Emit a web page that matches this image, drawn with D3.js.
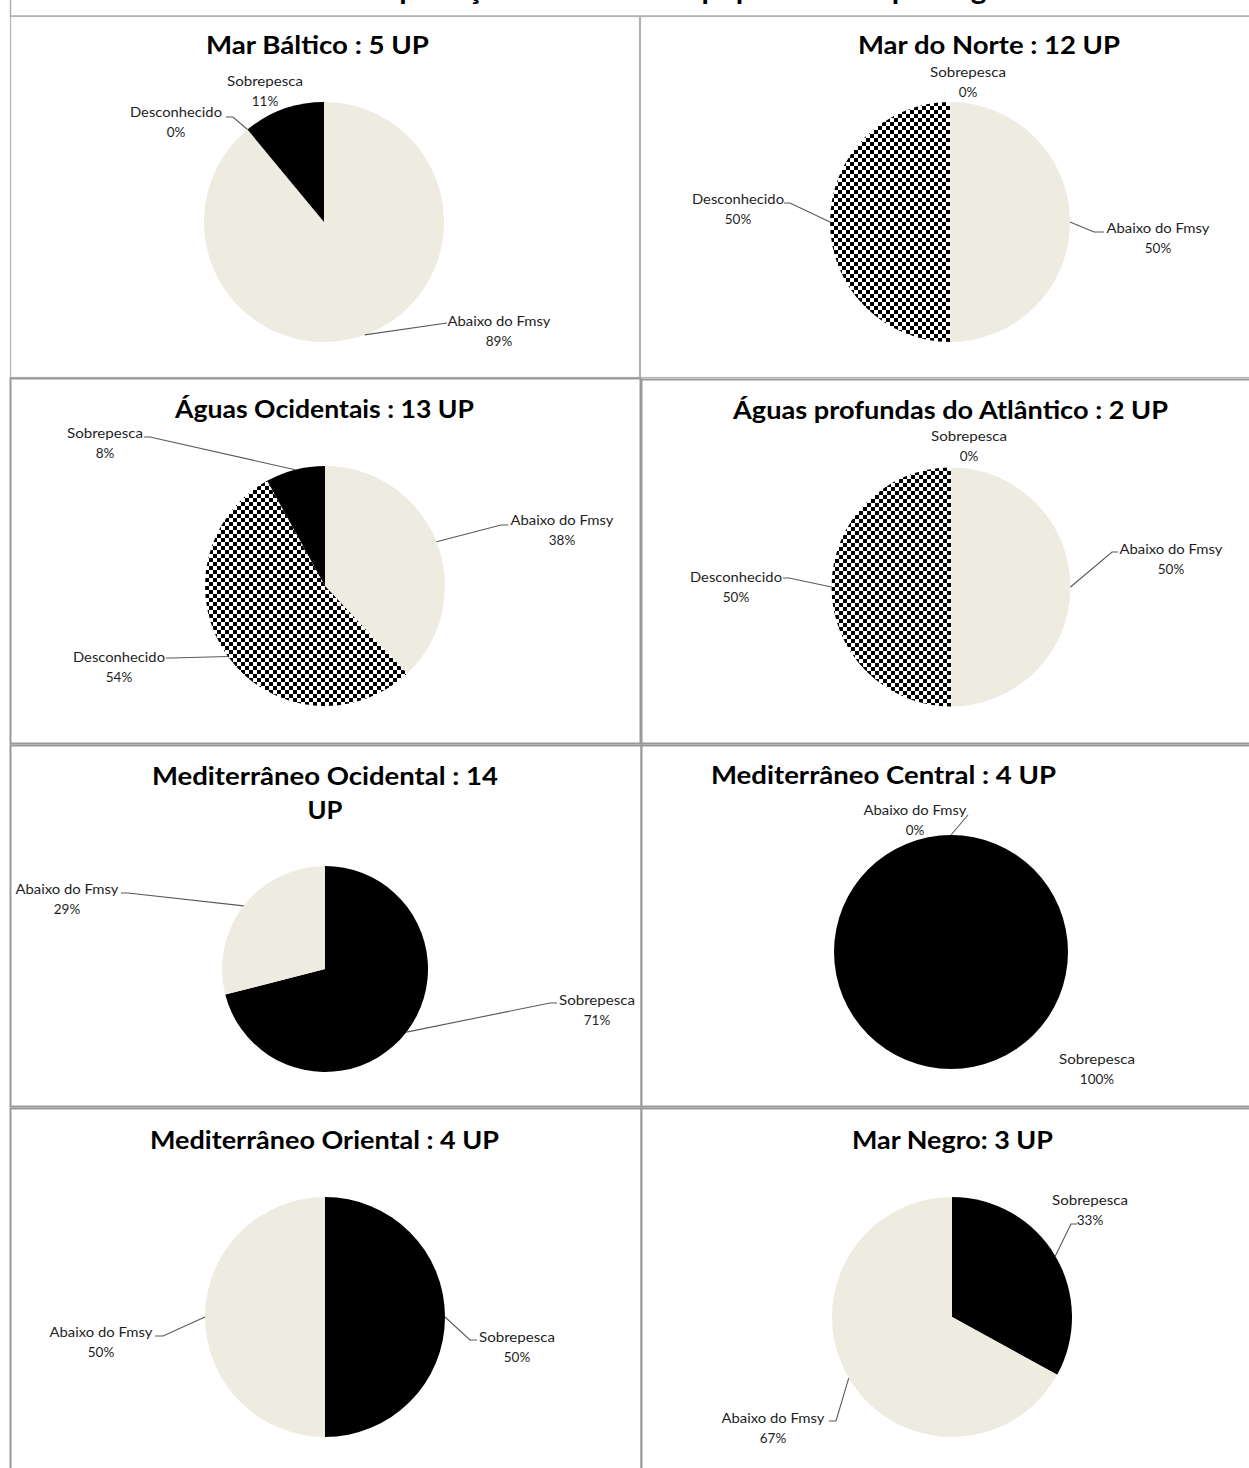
<!DOCTYPE html>
<html><head><meta charset="utf-8">
<script src="https://cdn.jsdelivr.net/npm/d3@7"></script>
<style>
html,body{margin:0;padding:0;background:#fff;overflow:hidden}
svg{display:block}
</style></head>
<body>
<svg id="chart" width="1249" height="1468"></svg>
<script>
// ---------- DATA ----------
const mainTitle = "Estado de exploração das unidades populacionais por região";
const panelTitles = [
  ["Mar Báltico :  5 UP"],
  ["Mar do Norte :  12 UP"],
  ["Águas Ocidentais : 13 UP"],
  ["Águas profundas do Atlântico : 2 UP"],
  ["Mediterrâneo Ocidental  : 14", "UP"],
  ["Mediterrâneo Central :  4 UP"],
  ["Mediterrâneo Oriental : 4 UP"],
  ["Mar Negro: 3 UP"]
];
const panelCategories = [
  ["Abaixo do Fmsy", "Desconhecido", "Sobrepesca"],
  ["Abaixo do Fmsy", "Desconhecido", "Sobrepesca"],
  ["Abaixo do Fmsy", "Desconhecido", "Sobrepesca"],
  ["Abaixo do Fmsy", "Desconhecido", "Sobrepesca"],
  ["Sobrepesca", "Abaixo do Fmsy"],
  ["Abaixo do Fmsy", "Sobrepesca"],
  ["Sobrepesca", "Abaixo do Fmsy"],
  ["Sobrepesca", "Abaixo do Fmsy"]
];
const panelValues = [
  [89, 0, 11],
  [50, 50, 0],
  [38, 54, 8],
  [50, 50, 0],
  [71, 29],
  [0, 100],
  [50, 50],
  [33, 67]
];

// ---------- LAYOUT ----------
const W = 1249, H = 1468;
const panelBoxes = [
  {x:10.5, y:16.5, w:629, h:361},
  {x:640.5, y:16.5, w:640, h:361},
  {x:10.5, y:378.5, w:630, h:365},
  {x:641.5, y:379.5, w:640, h:364},
  {x:10.5, y:745.5, w:631, h:361},
  {x:641.5, y:745.5, w:640, h:361},
  {x:10.5, y:1108.5, w:631, h:400},
  {x:641.5, y:1108.5, w:640, h:400}
];
const titleLayout = [
  {cx:317.5, y:[54], len:[223]},
  {cx:989, y:[54], len:[262]},
  {cx:324.5, y:[418], len:[299]},
  {cx:950.5, y:[419], len:[435]},
  {cx:325, y:[785, 819], len:[346, 35]},
  {cx:883.5, y:[784], len:[345]},
  {cx:324.5, y:[1149], len:[349]},
  {cx:952.5, y:[1149], len:[201]}
];
const pieLayout = [
  {cx:324, cy:222, r:120},
  {cx:950, cy:222, r:120},
  {cx:325, cy:586, r:120},
  {cx:951, cy:587, r:119.5},
  {cx:325, cy:969, r:103},
  {cx:951, cy:952, r:117},
  {cx:325, cy:1317, r:120},
  {cx:952, cy:1317, r:120}
];
// label positions (text center x, first line middle y) and leader points after the slice edge
const labelLayout = [
  {"Abaixo do Fmsy":{x:499,y:321,pts:[[447,323]]},
   "Desconhecido":{x:176,y:112,pts:[[233,117],[226,117]]},
   "Sobrepesca":{x:265,y:81,pts:null}},
  {"Abaixo do Fmsy":{x:1158,y:228,pts:[[1094,232],[1104,232]]},
   "Desconhecido":{x:738,y:199,pts:[[790,203],[784,203]]},
   "Sobrepesca":{x:968,y:72,pts:null}},
  {"Abaixo do Fmsy":{x:562,y:520,pts:[[501,525],[508,525]]},
   "Desconhecido":{x:119,y:657,pts:[[172,658],[166,658]]},
   "Sobrepesca":{x:105,y:433,pts:[[150,437],[144,437]]}},
  {"Abaixo do Fmsy":{x:1171,y:549,pts:[[1112,552],[1118,552]]},
   "Desconhecido":{x:736,y:577,pts:[[789,578],[783,578]]},
   "Sobrepesca":{x:969,y:436,pts:null}},
  {"Sobrepesca":{x:597,y:1000,pts:[[550,1003],[557,1003]]},
   "Abaixo do Fmsy":{x:67,y:889,pts:[[128,893],[121,893]]}},
  {"Abaixo do Fmsy":{x:915,y:810,pts:[[968,815]]},
   "Sobrepesca":{x:1097,y:1059,pts:null}},
  {"Sobrepesca":{x:517,y:1337,pts:[[470,1340],[477,1340]]},
   "Abaixo do Fmsy":{x:101,y:1332,pts:[[163,1336],[155,1336]]}},
  {"Sobrepesca":{x:1090,y:1200,pts:[[1071,1224],[1077,1224]]},
   "Abaixo do Fmsy":{x:773,y:1418,pts:[[836,1421],[829,1421]]}}
];
const labelLen = {"Abaixo do Fmsy":103, "Desconhecido":92, "Sobrepesca":76};

const FONT = "Lato, 'Open Sans', sans-serif";
const svg = d3.select("#chart");
const defs = svg.append("defs");
const pat = defs.append("pattern").attr("id","checker")
  .attr("patternUnits","userSpaceOnUse").attr("width",8).attr("height",8);
pat.append("rect").attr("width",8).attr("height",8).attr("fill","#fff");
pat.append("rect").attr("width",4).attr("height",4).attr("fill","#000");
pat.append("rect").attr("x",4).attr("y",4).attr("width",4).attr("height",4).attr("fill","#000");

const fillScale = d3.scaleOrdinal()
  .domain(["Abaixo do Fmsy","Desconhecido","Sobrepesca"])
  .range(["#EEECE1","url(#checker)","#000000"]);

// top (cropped) title box
svg.append("rect").attr("x",10.5).attr("y",-20).attr("width",W).attr("height",36)
  .attr("fill","#fff").attr("stroke","#b0b0b0").attr("stroke-width",1.5);
svg.append("text").attr("x",628).attr("y",-1).attr("text-anchor","middle")
  .attr("font-family",FONT).attr("font-weight","bold").attr("font-size",30)
  .attr("fill","#000").text(mainTitle);

const pie = d3.pie().sort(null).value(d => d.v).startAngle(0).endAngle(2*Math.PI);

panelTitles.forEach((titles, i) => {
  const b = panelBoxes[i];
  const g = svg.append("g");
  g.append("rect").attr("x",b.x).attr("y",b.y).attr("width",b.w).attr("height",b.h)
    .attr("fill","#fff").attr("stroke", i < 2 ? "#b4b4b4" : "#999").attr("stroke-width", i < 2 ? 1.2 : 2);

  const tl = titleLayout[i];
  titles.forEach((t, k) => {
    g.append("text").attr("x",tl.cx).attr("y",tl.y[k]).attr("text-anchor","middle")
      .attr("font-family",FONT).attr("font-weight","bold").attr("font-size",25)
      .attr("fill","#000").attr("textLength",tl.len[k]).attr("lengthAdjust","spacingAndGlyphs")
      .text(t);
  });

  const pl = pieLayout[i];
  const data = panelCategories[i].map((c, k) => ({c, v: panelValues[i][k]}));
  const arcs = pie(data);
  const arc = d3.arc().innerRadius(0).outerRadius(pl.r);
  const pg = g.append("g").attr("transform",`translate(${pl.cx},${pl.cy})`);
  pg.selectAll("path").data(arcs.filter(a => a.data.v > 0)).join("path")
    .attr("d", arc).attr("fill", a => fillScale(a.data.c));

  const ll = labelLayout[i];
  arcs.forEach(a => {
    const L = ll[a.data.c];
    const mid = (a.startAngle + a.endAngle) / 2;
    const sx = pl.cx + pl.r * Math.sin(mid), sy = pl.cy - pl.r * Math.cos(mid);
    if (L.pts) {
      const line = d3.line();
      g.append("path").attr("d", line([[sx,sy], ...L.pts]))
        .attr("fill","none").attr("stroke","#595959").attr("stroke-width",1.1);
    }
    const tx = g.append("text").attr("font-family",FONT).attr("font-size",13.5)
      .attr("fill","#1e1e1e").attr("text-anchor","middle");
    tx.append("tspan").attr("x",L.x).attr("y",L.y + 5)
      .attr("textLength",labelLen[a.data.c]).attr("lengthAdjust","spacingAndGlyphs")
      .text(a.data.c);
    tx.append("tspan").attr("x",L.x).attr("y",L.y + 24.5).text(a.data.v + "%");
  });
});
</script>
</body></html>
